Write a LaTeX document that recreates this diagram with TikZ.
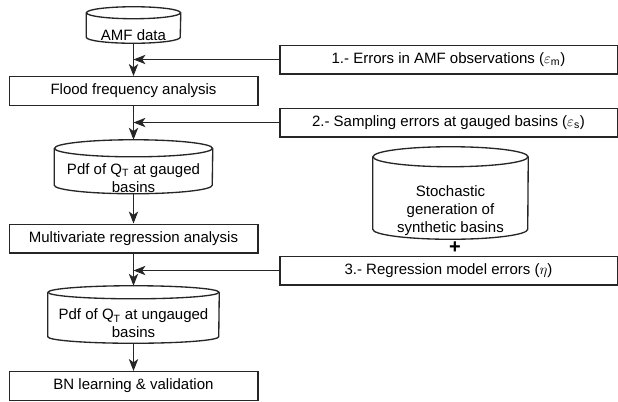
\documentclass[tikz,border=0pt]{standalone}
\usepackage{fontspec}
\setmainfont{Liberation Sans}
\usetikzlibrary{arrows.meta}

\newcommand{\flowfont}{\fontsize{11.25}{13.5}\selectfont}
% text set lower than the middle of a cylinder
\newcommand{\lowtext}[2]{\raisebox{#1}[0pt][0pt]{\begin{tabular}[c]{@{}c@{}}#2\end{tabular}}}

\begin{document}
\begin{tikzpicture}[
    x=0.75pt, y=-0.75pt,
    box/.style={
        draw=black!85, line width=1pt, minimum width=186.5pt, minimum height=21.5pt,
        inner sep=1pt, font=\flowfont
    },
    errbox/.style={box, minimum width=253pt},
    store/.style={inner sep=0pt, font=\flowfont},
    storeline/.style={draw=black!85, line width=1pt},
    arrow/.style={
        -{Stealth[length=9pt, width=7pt, inset=2.5pt]}, line width=0.8pt, black!85
    }
]
\useasboundingbox (0,0) rectangle (618,401);

% left column
\node[store, minimum width=70.5pt, minimum height=27pt] (amf) at (133.5, 25)
    {\lowtext{-11.5pt}{AMF data}};
\node[box] (ffa) at (133.5, 91) {Flood frequency analysis};
\node[store, minimum width=118.5pt, minimum height=40.1pt] (pdfg) at (133.5, 166.75)
    {\lowtext{-12.3pt}{Pdf of Q\textsubscript{T} at gauged\\basins}};
\node[box] (mra) at (133.5, 238.5) {Multivariate regression analysis};
\node[store, minimum width=128.25pt, minimum height=42.75pt] (pdfu) at (133.5, 314.5)
    {\lowtext{-10.8pt}{Pdf of Q\textsubscript{T} at ungauged\\basins}};
\node[box] (bn) at (133.5, 386) {BN learning \& validation};

% error sources
\node[errbox] (err1) at (448.5, 59.5) {1.- Errors in AMF observations ($\varepsilon_{\mathrm{m}}$)};
\node[errbox] (err2) at (448.5, 122.5) {2.- Sampling errors at gauged basins ($\varepsilon_{\mathrm{s}}$)};
\node[store, minimum width=116.25pt, minimum height=69pt] (synth) at (450.5, 193)
    {\lowtext{-16pt}{Stochastic\\generation of\\synthetic basins}};
\node[font=\fontsize{15}{15}\selectfont\bfseries, inner sep=0pt] (plus) at (455, 248) {+};
\node[errbox] (err3) at (448.5, 270.5) {3.- Regression model errors ($\eta$)};

% cylinder outlines
\draw[storeline] ([yshift=-4.5pt]amf.north) ellipse [x radius=35.25pt, y radius=4.5pt];
\draw[storeline] ([yshift=-4.5pt]amf.north west) -- ([yshift=4.5pt]amf.south west)
    arc [start angle=180, end angle=360, x radius=35.25pt, y radius=4.5pt] -- ([yshift=-4.5pt]amf.north east);
\draw[storeline] ([yshift=-6.4pt]pdfg.north) ellipse [x radius=59.25pt, y radius=6.4pt];
\draw[storeline] ([yshift=-6.4pt]pdfg.north west) -- ([yshift=6.4pt]pdfg.south west)
    arc [start angle=180, end angle=360, x radius=59.25pt, y radius=6.4pt] -- ([yshift=-6.4pt]pdfg.north east);
\draw[storeline] ([yshift=-4.9pt]pdfu.north) ellipse [x radius=64.125pt, y radius=4.9pt];
\draw[storeline] ([yshift=-4.9pt]pdfu.north west) -- ([yshift=4.9pt]pdfu.south west)
    arc [start angle=180, end angle=360, x radius=64.125pt, y radius=4.9pt] -- ([yshift=-4.9pt]pdfu.north east);
\draw[storeline] ([yshift=-7.5pt]synth.north) ellipse [x radius=58.125pt, y radius=7.5pt];
\draw[storeline] ([yshift=-7.5pt]synth.north west) -- ([yshift=7.5pt]synth.south west)
    arc [start angle=180, end angle=360, x radius=58.125pt, y radius=7.5pt] -- ([yshift=-7.5pt]synth.north east);

\draw[arrow] (amf) -- (ffa);
\draw[arrow] (ffa) -- (pdfg);
\draw[arrow] (pdfg) -- (mra);
\draw[arrow] (mra) -- (pdfu);
\draw[arrow] (pdfu) -- (bn);

\draw[arrow] (err1.west) -- (err1.west -| amf.south);
\draw[arrow] (err2.west) -- (err2.west -| ffa.south);
\draw[arrow] (err3.west) -- (err3.west -| mra.south);

\end{tikzpicture}
\end{document}
